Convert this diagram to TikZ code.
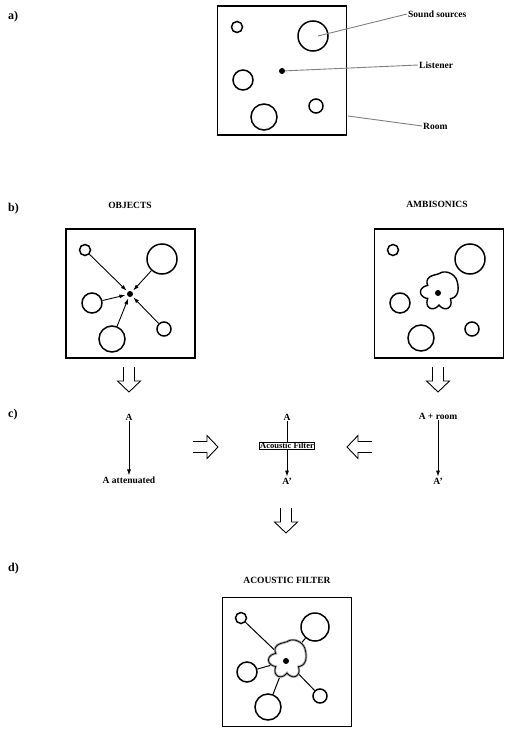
\documentclass[tikz,border=0pt]{standalone}
\usepackage{fontspec}
\setmainfont{Liberation Serif}
\usetikzlibrary{arrows.meta}

\tikzset{
  room/.style={draw, line width=1.9pt, minimum width=129pt, minimum height=129pt, inner sep=0pt},
  src/.style={draw, circle, line width=1.5pt, inner sep=0pt, minimum size=#1},
  lis/.style={fill, circle, inner sep=0pt, minimum size=6pt},
  txt/.style={font=\fontsize{9.5}{10}\selectfont\bfseries, inner sep=1pt},
  part/.style={font=\fontsize{12}{13}\selectfont\bfseries, anchor=west, inner sep=0pt},
  tag/.style={draw=gray, line width=0.9pt},
  link/.style={line width=1pt},
  arr/.style={line width=0.9pt, -{Latex[length=6pt,width=4pt]}},
  hollow/.pic={\draw[line width=0.9pt] (-5.5,0) -- (-5.5,14) -- (-11.5,14) -- (0,25) -- (11.5,14) -- (5.5,14) -- (5.5,0);}
}

% flower shaped pickup pattern round a listener
\newcommand{\blob}[3][]{\draw[#1, shift={(#2,#3)}] plot[smooth cycle, domain=0:357, samples=120]
  (\x:{13 + 5.5*abs(cos(3*\x))*(1-max(0,cos(\x+50))) + 9*pow(max(0,cos(\x+50)),2)});}

\begin{document}
\begin{tikzpicture}[x=1pt, y=-1pt]
  \useasboundingbox (0,0) rectangle (510,733);

  % Part labels
  \node[part] (pa) at (8,17) {a)};
  \node[part] (pb) at (8,209) {b)};
  \node[part] (pc) at (8,415) {c)};
  \node[part] (pd) at (8,569) {d)};

  % a) room with sources and listener
  \node[room] (rooma) at (282,70.5) {};
  \node[src=11pt] (a1) at (237,27) {};
  \node[src=30pt] (a2) at (313,36) {};
  \node[src=20pt] (a3) at (243,80) {};
  \node[src=26pt] (a4) at (264,117) {};
  \node[src=14pt] (a5) at (316,106) {};
  \node[lis] (alis) at (282,71) {};
  \node[txt, anchor=west] (tsrc) at (407,14) {Sound sources};
  \node[txt, anchor=west] (tlis) at (418,65) {Listener};
  \node[txt, anchor=west] (troom) at (422,126) {Room};
  \coordinate (redge) at (348,116);
  \draw[tag] ([xshift=5pt]a2.center) -- (tsrc.west);
  \draw[tag] (alis) -- (tlis.west);
  \draw[tag] (redge) -- (troom.west);

  % b) objects
  \node[txt] (tobj) at (130,205) {OBJECTS};
  \node[room] (roomo) at (130.5,293.5) {};
  \node[src=11pt] (o1) at (85,250) {};
  \node[src=30pt] (o2) at (162,259) {};
  \node[src=20pt] (o3) at (92,303) {};
  \node[src=26pt] (o4) at (112,339) {};
  \node[src=14pt] (o5) at (164,329) {};
  \node[lis] (olis) at (130,294) {};
  \foreach \s in {o1,o2,o3,o4,o5}
    \draw[arr, shorten >=1.5pt] (\s) -- (olis);

  % b) ambisonics
  \node[txt] (tamb) at (437,204) {AMBISONICS};
  \node[room] (roomm) at (439,293.5) {};
  \node[src=11pt] (m1) at (393,250) {};
  \node[src=30pt] (m2) at (470,259) {};
  \node[src=20pt] (m3) at (400,303) {};
  \node[src=26pt] (m4) at (421,338) {};
  \node[src=14pt] (m5) at (472,329) {};
  \blob[line width=1.4pt]{439}{292}
  \node[lis] (mlis) at (438,293) {};

  % c) hollow arrows
  \pic at (129,367) {hollow};
  \pic at (438,367) {hollow};
  \pic[rotate=90] at (193,447) {hollow};
  \pic[rotate=-90] at (372,447) {hollow};
  \pic at (286,508) {hollow};

  % c) signal paths
  \node[txt] (ca) at (129,417) {A};
  \node[txt] (catt) at (129,480) {A attenuated};
  \draw[arr] (ca) -- (catt);

  \node[txt] (fa) at (287,417) {A};
  \node[txt] (fout) at (287,481) {A'};
  \node[txt, draw, line width=0.9pt, fill=white, inner sep=0.8pt,
        font=\fontsize{8.5}{9}\selectfont\bfseries] (flt) at (287,446) {Acoustic Filter};
  \draw[line width=0.9pt] (fa) -- (flt);
  \draw[arr] (flt) -- (fout);

  \node[txt] (ra) at (438,416) {A + room};
  \node[txt] (rout) at (438,481) {A'};
  \draw[arr] (ra) -- (rout);

  % d) acoustic filter
  \node[txt] (tfil) at (287,580) {ACOUSTIC FILTER};
  \node[room] (roomf) at (287,662) {};
  \node[src=11pt] (f1) at (241,618) {};
  \node[src=28pt] (f2) at (315,627) {};
  \node[src=20pt] (f3) at (247,672) {};
  \node[src=26pt] (f4) at (268,707) {};
  \node[src=14pt] (f5) at (320,696) {};
  \coordinate (fc) at (286,661);
  \foreach \s in {f1,f2,f3,f4,f5}
    \draw[link] (\s) -- (fc);
  \blob[draw=gray!70, line width=2.4pt, fill=white]{287}{660}
  \blob[draw=black, line width=0.7pt]{287}{660}
  \node[lis] (flis) at (fc) {};
\end{tikzpicture}
\end{document}
